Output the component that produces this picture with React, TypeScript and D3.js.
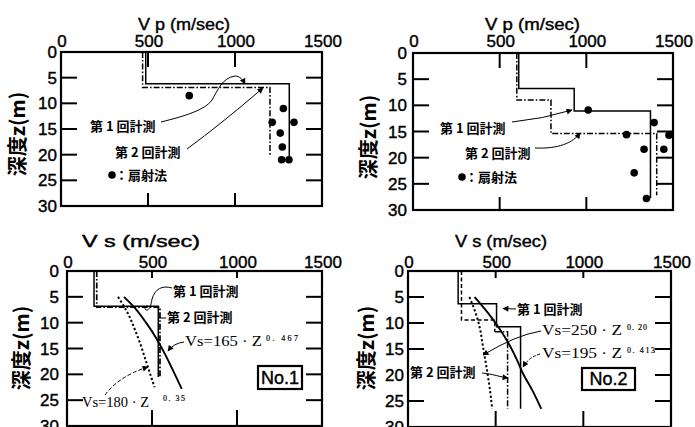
import React from "react";
import * as d3 from "d3";

const SANS = "'Liberation Sans', Arial, Helvetica, sans-serif";
const CJK = "'Noto Sans CJK JP', 'Noto Sans CJK SC', sans-serif";
const SERIF = "'Liberation Serif', 'DejaVu Serif', serif";

const velocityTicks = [0, 500, 1000, 1500];
const depthTicks = [0, 5, 10, 15, 20, 25, 30];
const innerVelTicks = [500, 1000];
const innerDepthTicks = [5, 10, 15, 20, 25];

// ---- Vp, site No.1 ----
const vp1Run1Vel = [487, 487, 1312, 1312];
const vp1Run1Depth = [0, 6.2, 6.2, 21.0];
const vp1Run2Vel = [469, 469, 1201, 1201];
const vp1Run2Depth = [0, 6.9, 6.9, 20.4];
const vp1FanVel = [737, 1278, 1214, 1339, 1260, 1272, 1268, 1310];
const vp1FanDepth = [8.5, 11.0, 13.7, 13.7, 15.8, 18.5, 21.0, 21.0];

// ---- Vp, site No.2 ----
const vp2Run1Vel = [610, 610, 930, 930, 1370, 1370];
const vp2Run1Depth = [0, 6.8, 6.8, 11.1, 11.1, 27.7];
const vp2Run2Vel = [599, 599, 796, 796, 1406, 1406];
const vp2Run2Depth = [0, 9.0, 9.0, 15.4, 15.4, 27.2];
const vp2FanVel = [1011, 1391, 1232, 1477, 1333, 1447, 1276, 1347];
const vp2FanDepth = [10.9, 13.3, 15.6, 15.7, 18.4, 18.4, 22.9, 27.8];

// ---- Vs, site No.1 ----
const vs1Run1Vel = [159, 159, 537, 537];
const vs1Run1Depth = [0, 6.8, 6.8, 20.5];
const vs1Run2Vel = [175, 175, 547, 547];
const vs1Run2Depth = [0, 7.0, 7.0, 20.5];
const vs1FitADepth = [5, 7, 10, 13, 16, 19, 22.8]; // Vs=165·Z^0.467
const vs1FitAVel = [335, 395, 465, 525, 575, 620, 675];
const vs1FitBDepth = [5, 8, 11, 14, 17, 20, 22.5]; // Vs=180·Z^0.35
const vs1FitBVel = [300, 355, 395, 430, 460, 490, 515];

// ---- Vs, site No.2 ----
const vs2Run1Vel = [286, 286, 505, 505, 642, 642];
const vs2Run1Depth = [0, 6.3, 6.3, 10.7, 10.7, 26.5];
const vs2Run2aVel = [305, 305, 495, 495];
const vs2Run2aDepth = [0, 9.4, 9.4, 11.7];
const vs2Run2bVel = [495, 568, 568];
const vs2Run2bDepth = [11.7, 11.7, 26.5];
const vs2FitADepth = [5, 8, 11, 14, 17, 20, 23, 26.5]; // Vs=195·Z^0.413
const vs2FitAVel = [380, 455, 520, 575, 620, 660, 710, 760];
const vs2FitBDepth = [5, 8, 11, 14, 17, 20, 23, 26.5]; // Vs=250·Z^0.20
const vs2FitBVel = [350, 385, 410, 425, 440, 455, 468, 480];

const RUN1 = "第 1 回計測";
const RUN2 = "第 2 回計測";
const FAN = "：扇射法";

type Sc = d3.ScaleLinear<number, number>;

function stepPath(x: Sc, y: Sc, vel: number[], depth: number[]) {
  return (
    d3
      .line<number>()
      .x((_, i) => x(vel[i]))
      .y((_, i) => y(depth[i]))(vel.map((_, i) => i)) || ""
  );
}
function curvePath(x: Sc, y: Sc, vel: number[], depth: number[]) {
  return (
    d3
      .line<number>()
      .x((_, i) => x(vel[i]))
      .y((_, i) => y(depth[i]))
      .curve(d3.curveMonotoneY)(vel.map((_, i) => i)) || ""
  );
}

const DASHDOT = "6,2,1.6,2";
const DOTTED = "2.2,2.2";
const TXT_STROKE = { stroke: "#000", strokeWidth: 0.4 } as const;

type PanelProps = {
  left: number;
  top: number;
  right: number;
  bottom: number;
  title: string;
  titleX0: number;
  titleX1: number;
  titleBase: number;
  tickBase: number;
  yLabelGap: number;
  yTitleX: number;
  yTitleY: number;
  topTick: number;
  bottomTick: number;
  children: (x: Sc, y: Sc) => React.ReactNode;
};

function Panel(p: PanelProps) {
  const x = d3.scaleLinear().domain([0, 1500]).range([p.left, p.right]);
  const y = d3.scaleLinear().domain([0, 30]).range([p.top, p.bottom]);
  return (
    <g>
      <text
        x={(p.titleX0 + p.titleX1) / 2}
        y={p.titleBase}
        textAnchor="middle"
        fontFamily={SANS}
        fontSize={16}
        fill="#000"
        {...TXT_STROKE}
        textLength={p.titleX1 - p.titleX0}
        lengthAdjust="spacingAndGlyphs"
      >
        {p.title}
      </text>
      {velocityTicks.map((v) => (
        <text
          key={"xv" + v}
          x={x(v) + 1}
          y={p.tickBase}
          textAnchor="middle"
          fontFamily={SANS}
          fontSize={17}
          fill="#000"
          {...TXT_STROKE}
        >
          {v}
        </text>
      ))}
      {depthTicks.map((d) => (
        <text
          key={"yd" + d}
          x={p.left - p.yLabelGap}
          y={y(d)}
          dy="0.36em"
          textAnchor="end"
          fontFamily={SANS}
          fontSize={17}
          fill="#000"
          {...TXT_STROKE}
        >
          {d}
        </text>
      ))}
      <text
        transform={`translate(${p.yTitleX},${p.yTitleY}) rotate(-90)`}
        textAnchor="middle"
        dy="0.36em"
        fontFamily={CJK}
        fontWeight={700}
        fontSize={20}
        fill="#000"
      >
        深度z(m)
      </text>
      <g stroke="#000" strokeWidth={2}>
        {innerDepthTicks.map((d) => (
          <g key={"it" + d}>
            <line x1={p.left} x2={p.left + 16} y1={y(d)} y2={y(d)} />
            <line x1={p.right} x2={p.right - 16} y1={y(d)} y2={y(d)} />
          </g>
        ))}
        {innerVelTicks.map((v) => (
          <g key={"iv" + v}>
            <line x1={x(v)} x2={x(v)} y1={p.top} y2={p.top + p.topTick} />
            <line x1={x(v)} x2={x(v)} y1={p.bottom} y2={p.bottom - p.bottomTick} />
          </g>
        ))}
      </g>
      {p.children(x, y)}
      <rect
        x={p.left}
        y={p.top}
        width={p.right - p.left}
        height={p.bottom - p.top}
        fill="none"
        stroke="#000"
        strokeWidth={2.2}
      />
    </g>
  );
}

function Label({ x, y, text, bg }: { x: number; y: number; text: string; bg?: boolean }) {
  return (
    <g>
      {bg && <rect x={x - 1} y={y - 8} width={74} height={16} fill="#fff" />}
      <text x={x} y={y} dy="0.36em" fontFamily={CJK} fontWeight={700} fontSize={13} fill="#000">
        {text}
      </text>
    </g>
  );
}

function Formula({
  x,
  base,
  main,
  mainLen,
  sup,
  supX,
  supLen,
}: {
  x: number;
  base: number;
  main: string;
  mainLen: number;
  sup: string;
  supX: number;
  supLen: number;
}) {
  return (
    <g fontFamily={SERIF} fill="#000">
      <text x={x} y={base} fontSize={15} textLength={mainLen} lengthAdjust="spacingAndGlyphs" fill="#000">
        {main}
      </text>
      <text
        x={supX}
        y={base - 5.5}
        fontSize={8}
        textLength={supLen}
        lengthAdjust="spacing"
        fill="#000"
        stroke="#000"
        strokeWidth={0.2}
      >
        {sup}
      </text>
    </g>
  );
}

function NoBox({ x, y, w, h, text }: { x: number; y: number; w: number; h: number; text: string }) {
  return (
    <g>
      <rect x={x} y={y} width={w} height={h} fill="#fff" stroke="#000" strokeWidth={2.2} />
      <text
        x={x + w / 2}
        y={y + h / 2}
        dy="0.36em"
        textAnchor="middle"
        fontFamily={SANS}
        fontSize={18}
        fill="#000"
        {...TXT_STROKE}
      >
        {text}
      </text>
    </g>
  );
}

const lineStyle = { fill: "none", stroke: "#000" } as const;

export default function App() {
  return (
    <svg
      width={695}
      height={427}
      viewBox="0 0 695 427"
      style={{ position: "absolute", left: 0, top: 0, background: "#fff" }}
    >
      <defs>
        <marker
          id="ah"
          viewBox="0 0 10 10"
          refX={9}
          refY={5}
          markerWidth={7}
          markerHeight={6}
          markerUnits="userSpaceOnUse"
          orient="auto"
        >
          <path d="M0,0 L10,5 L0,10 z" fill="#000" />
        </marker>
      </defs>
      <rect width={695} height={427} fill="#fff" />

      {/* Vp No.1 */}
      <Panel
        left={61}
        top={52}
        right={322}
        bottom={206}
        title="V p (m/sec)"
        titleX0={138}
        titleX1={230}
        titleBase={29.5}
        tickBase={46.5}
        yLabelGap={4}
        yTitleX={18}
        yTitleY={134}
        topTick={15}
        bottomTick={13}
      >
        {(x, y) => (
          <g>
            <path d={stepPath(x, y, vp1Run1Vel, vp1Run1Depth)} {...lineStyle} strokeWidth={1.5} />
            <path
              d={stepPath(x, y, vp1Run2Vel, vp1Run2Depth)}
              {...lineStyle}
              strokeWidth={1.5}
              strokeDasharray={DASHDOT}
            />
            {vp1FanVel.map((v, i) => (
              <circle key={i} cx={x(v)} cy={y(vp1FanDepth[i])} r={3.8} fill="#000" />
            ))}
            <g transform="translate(61,52)">
              <Label x={29} y={74} text={RUN1} />
              <path
                d="M100,70 C124,64 144,58 151,48 C157,38 161,26 174,24 C179,24 182,28 184,32"
                {...lineStyle}
                strokeWidth={1}
                markerEnd="url(#ah)"
              />
              <Label x={54} y={100} text={RUN2} />
              <path d="M126,97 Q160,72 202,36" {...lineStyle} strokeWidth={1} markerEnd="url(#ah)" />
              <circle cx={51} cy={123} r={3.8} fill="#000" />
              <Label x={54} y={123} text={FAN} />
            </g>
          </g>
        )}
      </Panel>

      {/* Vp No.2 */}
      <Panel
        left={413}
        top={53}
        right={673}
        bottom={210}
        title="V p (m/sec)"
        titleX0={485}
        titleX1={580}
        titleBase={29.5}
        tickBase={46.5}
        yLabelGap={6}
        yTitleX={369}
        yTitleY={137}
        topTick={15}
        bottomTick={13}
      >
        {(x, y) => (
          <g>
            <path d={stepPath(x, y, vp2Run1Vel, vp2Run1Depth)} {...lineStyle} strokeWidth={1.5} />
            <path
              d={stepPath(x, y, vp2Run2Vel, vp2Run2Depth)}
              {...lineStyle}
              strokeWidth={1.5}
              strokeDasharray={DASHDOT}
            />
            {vp2FanVel.map((v, i) => (
              <circle key={i} cx={x(v)} cy={y(vp2FanDepth[i])} r={3.8} fill="#000" />
            ))}
            <g transform="translate(413,53)">
              <Label x={27} y={75} text={RUN1} />
              <path d="M99,69 Q130,66 159,57" {...lineStyle} strokeWidth={1} markerEnd="url(#ah)" />
              <Label x={52} y={100} text={RUN2} />
              <path
                d="M122,95 C145,96 160,90 167,80"
                {...lineStyle}
                strokeWidth={1}
                markerEnd="url(#ah)"
              />
              <circle cx={49} cy={124} r={3.8} fill="#000" />
              <Label x={52} y={124} text={FAN} />
            </g>
          </g>
        )}
      </Panel>

      {/* Vs No.1 */}
      <Panel
        left={67}
        top={271}
        right={322}
        bottom={426}
        title="V s (m/sec)"
        titleX0={82}
        titleX1={200}
        titleBase={246.5}
        tickBase={268}
        yLabelGap={8}
        yTitleX={22}
        yTitleY={348}
        topTick={7}
        bottomTick={16}
      >
        {(x, y) => (
          <g>
            <path d={stepPath(x, y, vs1Run1Vel, vs1Run1Depth)} {...lineStyle} strokeWidth={1.5} />
            <path
              d={stepPath(x, y, vs1Run2Vel, vs1Run2Depth)}
              {...lineStyle}
              strokeWidth={1.7}
              strokeDasharray={DASHDOT}
            />
            <path d={curvePath(x, y, vs1FitAVel, vs1FitADepth)} {...lineStyle} strokeWidth={1.9} />
            <path
              d={curvePath(x, y, vs1FitBVel, vs1FitBDepth)}
              {...lineStyle}
              strokeWidth={2}
              strokeDasharray={DOTTED}
            />
            <g transform="translate(67,271)">
              <Label x={106} y={20} text={RUN1} />
              <path
                d="M105,17 C95,14 88,18 85,28 C84,35 82,40 79,39 C77,38 78,35 81,35"
                {...lineStyle}
                strokeWidth={1}
              />
              <Label x={100} y={46} text={RUN2} />
              <line x1={92} x2={99} y1={47} y2={47} stroke="#000" strokeWidth={1} />
              <Formula x={118} base={75} main="Vs=165 · Z" mainLen={77} sup="0. 467" supX={199} supLen={32} />
              <path d="M117,71 Q107,72 101,80" {...lineStyle} strokeWidth={1} markerEnd="url(#ah)" />
              <Formula x={15} base={135.5} main="Vs=180 · Z" mainLen={67} sup="0. 35" supX={96} supLen={22} />
              <path
                d="M38,124 Q52,105 81,96"
                {...lineStyle}
                strokeWidth={1}
                strokeDasharray="4,2"
                markerEnd="url(#ah)"
              />
              <NoBox x={191} y={95} w={44} h={23} text="No.1" />
            </g>
          </g>
        )}
      </Panel>

      {/* Vs No.2 */}
      <Panel
        left={408}
        top={271}
        right={671}
        bottom={427}
        title="V s (m/sec)"
        titleX0={455}
        titleX1={547}
        titleBase={246.5}
        tickBase={268}
        yLabelGap={4}
        yTitleX={367}
        yTitleY={348}
        topTick={7}
        bottomTick={16}
      >
        {(x, y) => (
          <g>
            <path d={stepPath(x, y, vs2Run1Vel, vs2Run1Depth)} {...lineStyle} strokeWidth={1.5} />
            <path
              d={stepPath(x, y, vs2Run2aVel, vs2Run2aDepth)}
              {...lineStyle}
              strokeWidth={1.5}
              strokeDasharray="4,2.5"
            />
            <path
              d={stepPath(x, y, vs2Run2bVel, vs2Run2bDepth)}
              {...lineStyle}
              strokeWidth={1.5}
              strokeDasharray={DASHDOT}
            />
            <path d={curvePath(x, y, vs2FitAVel, vs2FitADepth)} {...lineStyle} strokeWidth={1.9} />
            <path
              d={curvePath(x, y, vs2FitBVel, vs2FitBDepth)}
              {...lineStyle}
              strokeWidth={2}
              strokeDasharray={DOTTED}
            />
            <g transform="translate(408,271)">
              <Label x={109} y={38} text={RUN1} />
              <path d="M108,38 L95,37.5" {...lineStyle} strokeWidth={1} markerEnd="url(#ah)" />
              <Formula x={134} base={64} main="Vs=250 · Z" mainLen={80} sup="0. 20" supX={219} supLen={20} />
              <path d="M133,60 Q108,64 75,84" {...lineStyle} strokeWidth={1} markerEnd="url(#ah)" />
              <Formula x={134} base={87} main="Vs=195 · Z" mainLen={80} sup="0. 413" supX={219} supLen={28} />
              <path
                d="M132,83 Q121,86 115,96"
                {...lineStyle}
                strokeWidth={1}
                strokeDasharray="3,1.5"
                markerEnd="url(#ah)"
              />
              <Label x={2} y={101} text={RUN2} bg />
              <path
                d="M74,102 C85,103 92,106 100,107"
                {...lineStyle}
                strokeWidth={1}
                markerEnd="url(#ah)"
              />
              <NoBox x={174} y={97} w={53} h={22} text="No.2" />
            </g>
          </g>
        )}
      </Panel>
    </svg>
  );
}
